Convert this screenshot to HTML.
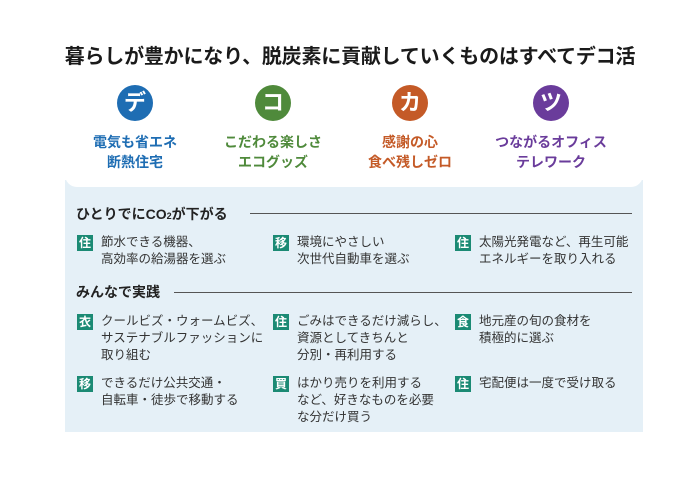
<!DOCTYPE html>
<html><head><meta charset="utf-8"><style>
body{margin:0;width:700px;height:485px;background:#fff;font-family:"Liberation Sans","Noto Sans CJK JP",sans-serif;position:relative;overflow:hidden;color:#222}
.a{position:absolute;white-space:nowrap}
.title{left:0;width:700px;top:40px;text-align:center;font-size:20px;font-weight:bold;color:#1a1a1a;letter-spacing:-0.2px}
.c{width:36px;height:36px;border-radius:50%;color:#fff;font-size:22px;font-weight:bold;text-align:center;line-height:36px}
.l{font-size:14px;font-weight:bold;text-align:center;width:160px;line-height:20px}
.panel{left:65px;top:180px;width:578px;height:252px;background:#e5f0f7}
.card{left:65px;top:170px;width:578px;height:17px;background:#fff;border-radius:0 0 12px 12px}
.h{font-size:14px;font-weight:bold;color:#222}
.line{height:1px;background:#555}
.b{width:16px;height:16px;background:#1b8a74;color:#fff;font-size:12px;font-weight:bold;text-align:center;line-height:16px}
.t{font-size:12.5px;line-height:17px;color:#333}
</style></head><body>
<div class="a title">暮らしが豊かになり、脱炭素に貢献していくものはすべてデコ活</div>
<div class="a c" style="left:117px;top:85px;background:#1e6db3">デ</div>
<div class="a c" style="left:255px;top:85px;background:#4f8a3b">コ</div>
<div class="a c" style="left:392px;top:85px;background:#c45a27">カ</div>
<div class="a c" style="left:533px;top:85px;background:#6a3c9b">ツ</div>
<div class="a l" style="left:55px;top:132px;color:#1e6db3">電気も省エネ<br>断熱住宅</div>
<div class="a l" style="left:193px;top:132px;color:#4f8a3b">こだわる楽しさ<br>エコグッズ</div>
<div class="a l" style="left:330px;top:132px;color:#c45a27">感謝の心<br>食べ残しゼロ</div>
<div class="a l" style="left:471px;top:132px;color:#6a3c9b">つながるオフィス<br>テレワーク</div>
<div class="a panel"></div>
<div class="a card"></div>
<div class="a h" style="left:76px;top:204px">ひとりでにCO<span style="font-size:9px">2</span>が下がる</div>
<div class="a line" style="left:250px;top:213px;width:382px"></div>
<div class="a b" style="left:77px;top:235px">住</div><div class="a t" style="left:101px;top:234px">節水できる機器、<br>高効率の給湯器を選ぶ</div>
<div class="a b" style="left:273px;top:235px">移</div><div class="a t" style="left:297px;top:234px">環境にやさしい<br>次世代自動車を選ぶ</div>
<div class="a b" style="left:455px;top:235px">住</div><div class="a t" style="left:479px;top:234px">太陽光発電など、再生可能<br>エネルギーを取り入れる</div>
<div class="a h" style="left:76px;top:282px">みんなで実践</div>
<div class="a line" style="left:174px;top:292px;width:458px"></div>
<div class="a b" style="left:77px;top:314px">衣</div><div class="a t" style="left:101px;top:313px">クールビズ・ウォームビズ、<br>サステナブルファッションに<br>取り組む</div>
<div class="a b" style="left:273px;top:314px">住</div><div class="a t" style="left:297px;top:313px">ごみはできるだけ減らし、<br>資源としてきちんと<br>分別・再利用する</div>
<div class="a b" style="left:455px;top:314px">食</div><div class="a t" style="left:479px;top:313px">地元産の旬の食材を<br>積極的に選ぶ</div>
<div class="a b" style="left:77px;top:376px">移</div><div class="a t" style="left:101px;top:375px">できるだけ公共交通・<br>自転車・徒歩で移動する</div>
<div class="a b" style="left:273px;top:376px">買</div><div class="a t" style="left:297px;top:375px">はかり売りを利用する<br>など、好きなものを必要<br>な分だけ買う</div>
<div class="a b" style="left:455px;top:376px">住</div><div class="a t" style="left:479px;top:375px">宅配便は一度で受け取る</div>
</body></html>
